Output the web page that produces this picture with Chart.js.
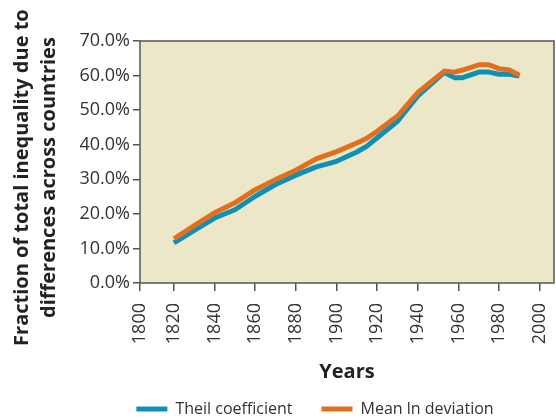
<!DOCTYPE html>
<html>
<head>
<meta charset="utf-8">
<script src="https://cdn.jsdelivr.net/npm/chart.js@4.4.1/dist/chart.umd.min.js"></script>
<style>
  html, body { margin: 0; padding: 0; background: #fff; }
  #wrap { width: 556px; height: 419px; }
</style>
</head>
<body>
<div id="wrap"><canvas id="chart" width="556" height="419"></canvas></div>
<script>
// Years
const years = [1820, 1830, 1840, 1850, 1860, 1870, 1880, 1890, 1900, 1910, 1915, 1920, 1930, 1940, 1953, 1958, 1962, 1970, 1975, 1980, 1985, 1990];

// Share of inequality between countries (%)
const theil = [11.6, 15.2, 18.8, 21.2, 25.1, 28.5, 31.2, 33.6, 35.2, 37.9, 39.6, 42.0, 46.8, 54.1, 60.9, 59.4, 59.4, 61.0, 61.0, 60.4, 60.4, 59.9];
const mld   = [12.8, 16.6, 20.3, 23.2, 27.0, 29.9, 32.6, 35.9, 38.0, 40.5, 41.9, 43.9, 48.3, 55.1, 61.3, 61.0, 61.6, 63.1, 63.1, 62.0, 61.6, 60.1];

const seriesNames = ["Theil coefficient", "Mean ln deviation"];
const xTicks = [1800, 1820, 1840, 1860, 1880, 1900, 1920, 1940, 1960, 1980, 2000];
const yTicks = [0, 10, 20, 30, 40, 50, 60, 70];

const blue = "#0f8fb6";
const orange = "#e0701f";
const frame = "#555555";
const font = "'Open Sans', 'DejaVu Sans', sans-serif";

// the first label sits at the left edge of the frame
const xMin = 1803.3;
const xMax = 2007;

// plot background and full frame
const framePlugin = {
  id: "frame",
  beforeDraw(chart) {
    const a = chart.chartArea, ctx = chart.ctx;
    ctx.save();
    ctx.fillStyle = "#ece7c9";
    ctx.fillRect(a.left, a.top, a.right - a.left, a.bottom - a.top);
    ctx.restore();
  },
  afterDraw(chart) {
    const a = chart.chartArea, ctx = chart.ctx;
    ctx.save();
    ctx.strokeStyle = frame;
    ctx.lineWidth = 1.5;
    ctx.strokeRect(a.left, a.top, a.right - a.left, a.bottom - a.top);
    ctx.restore();
  }
};

// move the legend row down and right, under the plot
const legendSpot = {
  id: "legendSpot",
  afterLayout(chart) {
    const lg = chart.legend;
    lg.top = 372;
    lg.bottom = 419;
    lg.left += 38;
    lg.right += 38;
  }
};

const toPoints = (vals) => vals.map((v, i) => ({ x: years[i], y: v }));

new Chart(document.getElementById("chart"), {
  type: "line",
  data: {
    datasets: [
      { label: seriesNames[0], data: toPoints(theil), borderColor: blue, backgroundColor: blue, order: 1 },
      { label: seriesNames[1], data: toPoints(mld), borderColor: orange, backgroundColor: orange, order: 0 },
    ],
  },
  plugins: [framePlugin, legendSpot],
  options: {
    responsive: false,
    animation: false,
    layout: { padding: { top: 41, right: 2, left: 0, bottom: 0 } },
    elements: {
      line: { borderWidth: 5, tension: 0, borderJoinStyle: "round", borderCapStyle: "butt" },
      point: { radius: 0 },
    },
    scales: {
      x: {
        type: "linear",
        min: xMin,
        max: xMax,
        afterBuildTicks: (s) => {
          s.ticks = xTicks.map((t, i) => ({ value: i === 0 ? xMin : t }));
        },
        afterFit: (s) => {
          const lg = s.chart.legend ? s.chart.legend.height : 0;
          s.height = 419 - 283 - lg;
          s.paddingLeft = 0;
          s.paddingRight = 0;
        },
        ticks: {
          autoSkip: false,
          minRotation: 90,
          maxRotation: 90,
          padding: 12,
          color: "#333",
          font: { family: font, size: 18 },
          callback: (v, i) => String(xTicks[i]),
        },
        grid: { display: true, drawOnChartArea: false, drawTicks: true, tickLength: 8, color: frame, lineWidth: 1.5 },
        border: { display: false },
        title: {
          display: true,
          text: "Years",
          color: "#222",
          font: { family: font, size: 20, weight: "bold" },
          padding: { top: 0, bottom: 5 },
        },
      },
      y: {
        min: 0,
        max: 70,
        afterBuildTicks: (s) => { s.ticks = yTicks.map((v) => ({ value: v })); },
        afterFit: (s) => {
          s.width = 140;
          s.paddingTop = 0;
          s.paddingBottom = 0;
        },
        ticks: {
          color: "#333",
          padding: 3,
          font: { family: font, size: 18 },
          callback: (v) => v.toFixed(1) + "%",
        },
        grid: { display: true, drawOnChartArea: false, drawTicks: true, tickLength: 7, color: frame, lineWidth: 1.5 },
        border: { display: false },
        title: {
          display: true,
          text: ["Fraction of total inequality due to      ", "differences across countries      "],
          color: "#222",
          font: { family: font, size: 20, weight: "bold", lineHeight: 1.35 },
          padding: { top: 9, bottom: 0 },
        },
      },
    },
    plugins: {
      tooltip: { enabled: false },
      legend: {
        position: "bottom",
        maxHeight: 30,
        labels: {
          color: "#333",
          font: { family: font, size: 16 },
          boxWidth: 31,
          boxHeight: 5,
          padding: 29,
          sort: (a, b) => a.datasetIndex - b.datasetIndex,
          generateLabels: (chart) =>
            Chart.defaults.plugins.legend.labels.generateLabels(chart).map((l) => ({ ...l, lineWidth: 0 })),
        },
      },
    },
  },
});
</script>
</body>
</html>
